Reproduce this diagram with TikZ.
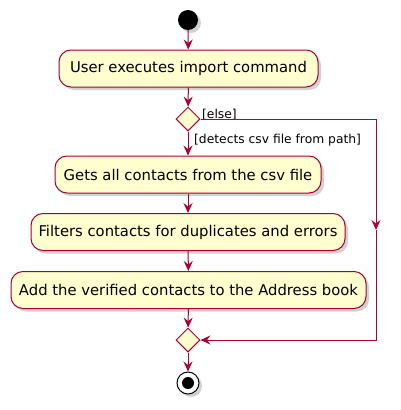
\documentclass[tikz,border=0pt]{standalone}
\usepackage{fontspec}
\setmainfont{DejaVu Sans}
\usetikzlibrary{shapes.geometric,arrows.meta,shadows}
\definecolor{pumlred}{HTML}{A80036}
\definecolor{pumlfill}{HTML}{FEFECE}
\begin{document}
\begin{tikzpicture}[x=1pt,y=1pt,
  shad/.style={drop shadow={shadow xshift=3pt,shadow yshift=-3pt,opacity=0.3,fill=black!60}},
  act/.style={draw=pumlred,fill=pumlfill,line width=1pt,rounded corners=12pt,minimum height=37pt,inner sep=0pt,font=\fontsize{14.8}{16}\selectfont,shad},
  dec/.style={diamond,draw=pumlred,fill=pumlfill,line width=1pt,minimum width=24pt,minimum height=24pt,inner sep=0pt},
  flow/.style={draw=pumlred,line width=1pt,-{Stealth[length=10pt,width=9pt,inset=3.5pt]}},
  lbl/.style={font=\fontsize{12.3}{14}\selectfont,inner sep=0pt}]
\useasboundingbox (0,0) rectangle (401,-410);
\node[circle,fill=black,minimum size=20pt,inner sep=0pt,shad] (start) at (188,-20) {};
\node[act,minimum width=259pt] (a1) at (188.5,-68.5) {User executes import command};
\node[dec] (d1) at (188,-119) {};
\node[act,minimum width=266pt] (a2) at (188,-174.5) {Gets all contacts from the csv file};
\node[act,minimum width=314pt] (a3) at (188,-232) {Filters contacts for duplicates and errors};
\node[act,minimum width=355pt] (a4) at (188.5,-290) {Add the verified contacts to the Address book};
\node[dec] (d2) at (188,-340) {};
\node[circle,draw=black,fill=white,line width=1pt,minimum size=22pt,inner sep=0pt,shad] (stop) at (188,-383) {};
\node[circle,fill=black,minimum size=12pt,inner sep=0pt] (stopdot) at (stop.center) {};
\coordinate (r1) at (376,-119);
\coordinate (rm) at (376,-230);
\coordinate (r2) at (376,-340);
\node[lbl,anchor=base west] (lelse) at (202,-118) {[else]};
\node[lbl,anchor=base west] (lyes) at (194,-143) {[detects csv file from path]};
\draw[flow] (start) -- (a1);
\draw[flow] (a1) -- (d1);
\draw[flow] (d1) -- (a2);
\draw[flow] (a2) -- (a3);
\draw[flow] (a3) -- (a4);
\draw[flow] (a4) -- (d2);
\draw[flow] (d2) -- (stop);
\draw[flow] (d1.east) -- (r1) -- (rm);
\draw[flow] (rm) -- (r2) -- (d2.east);
\end{tikzpicture}
\end{document}
